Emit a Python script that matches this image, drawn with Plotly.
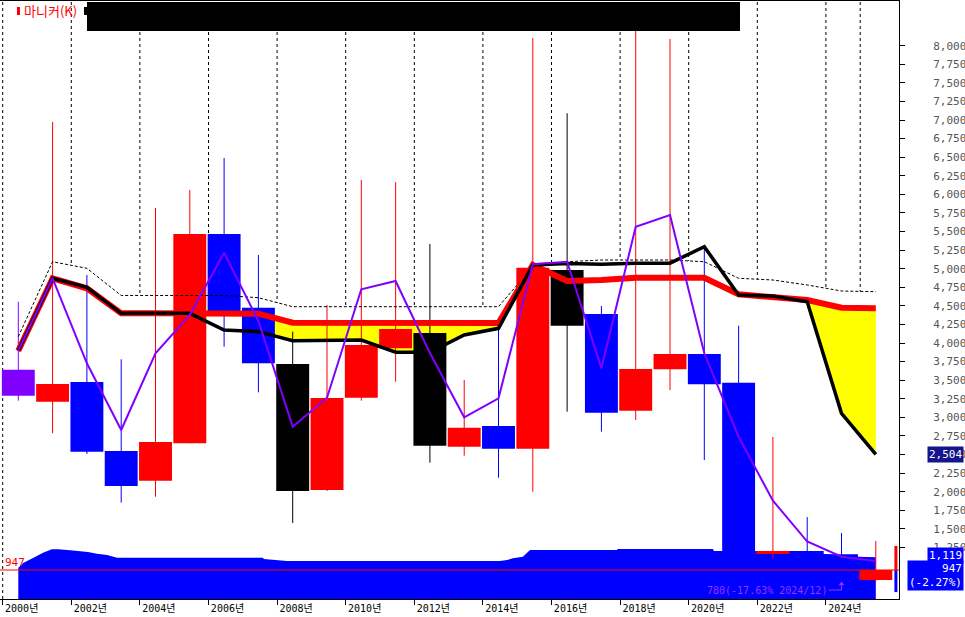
import plotly.graph_objects as go
import numpy as np

# ---------------- data ----------------
years = list(range(2000, 2026))
opens = [3640, 3211, 3476, 2548, 2148, 2651, 5467, 4476, 3718, 2023, 3265, 3929, 4135,
         2606, 2884, 2579, 4983, 4391, 3090, 3647, 3853, 3467, 1162, 1203, 1160, 813]
highs = [4556, 6974, 4915, 3781, 5817, 6059, 6489, 5184, 4153, 4512, 6193, 6166, 5332,
         3503, 4176, 8104, 7091, 4498, 8450, 8090, 5290, 4233, 2736, 1660, 1445, 1337]
lows = [3225, 2786, 2507, 1853, 1933, 2651, 3951, 3337, 1579, 2010, 3225, 3480, 2391,
        2485, 2189, 2000, 3077, 2808, 2965, 3368, 2427, 1100, 1104, 1100, 780, 790]
closes = [3290, 3449, 2539, 2077, 2669, 5467, 4431, 3728, 2010, 3261, 3974, 4189, 2619,
          2861, 2579, 5014, 4233, 3063, 3651, 3853, 3445, 1160, 1203, 1162, 820, 947]

red_line = [3897, 4871, 4736, 4400, 4400, 4400, 4395, 4395, 4274, 4274, 4274, 4274, 4274,
            4274, 4268, 5050, 4835, 4848, 4879, 4879, 4879, 4656, 4624, 4579, 4476, 4468]
black_line = [3897, 4871, 4750, 4400, 4400, 4400, 4176, 4153, 4032, 4041, 4041, 3876, 3876,
              4108, 4198, 5050, 5070, 5060, 5075, 5075, 5296, 4646, 4633, 4556, 3055, 2504]
envelope = [4086, 5094, 5005, 4640, 4640, 4640, 4640, 4610, 4489, 4489, 4489, 4489, 4489,
            4489, 4489, 5027, 5094, 5117, 5117, 5117, 5094, 4871, 4848, 4781, 4700, 4691]
purple_line = [3897, 4871, 3728, 2830, 3862, 4377, 5215, 4297, 2875, 3265, 4723, 4835, 3866,
               3001, 3257, 5060, 5094, 3660, 5565, 5723, 3862, 2740, 1880, 1330, 1126, 1068]

area_x = [2000.00, 2000.14, 2000.43, 2000.72, 2000.98, 2001.16, 2001.51, 2001.80, 2002.03,
          2002.29, 2002.59, 2002.88, 2007.13, 2007.16, 2007.51, 2007.83, 2014.04, 2014.25,
          2014.42, 2014.71, 2014.92, 2017.45, 2017.48, 2020.25, 2020.28, 2022.50, 2023.49,
          2024.49, 2025.00]
area_y = [978, 1041, 1109, 1180, 1226, 1226, 1212, 1203, 1189, 1166, 1149, 1113, 1113,
          1095, 1082, 1068, 1068, 1082, 1104, 1126, 1216, 1216, 1230, 1230, 1203, 1203,
          1162, 1126, 1119]

cloud_spans = [(2007, 2015), (2022, 2025)]

current_price = 947
current_change = "-2.27%"
area_last = 1119
marker_high = 1270
marker_low = 650
low_value = 780
low_year = 2024
low_label = "780(-17.63% 2024/12)"

label_years = list(range(2000, 2025, 2))
grid_years = label_years + [2025]
y_ticks = list(range(1250, 8001, 250))

# ---------------- styles ----------------
candle_colors = ["#8000ff", "red", "blue", "blue", "red", "red", "blue", "blue", "black",
                 "red", "red", "red", "black", "red", "blue", "red", "black", "blue",
                 "red", "red", "blue", "blue", "red", "blue", "blue", "red"]
BOUND = 0.455
HALF = 0.48
X0, X1 = 1999.4665, 2025.676
Y0, Y1 = 557, 8601
PW, PTOP, PBOT = 899, 1, 599
MONO = "DejaVu Sans Mono, Noto Sans CJK KR"
KR = "Noto Sans CJK KR"


def pxx(px):
    return px / PW


def pxy(py):
    return (PBOT - py) / (PBOT - PTOP)


fig = go.Figure()

# white mask below the envelope (hides grid lines)
fig.add_trace(go.Scatter(x=years, y=envelope, mode="lines", line=dict(width=0, color="white"),
                         fill="tozeroy", fillcolor="white", hoverinfo="skip"))
# blue area at the bottom
fig.add_trace(go.Scatter(x=area_x, y=area_y, mode="lines", line=dict(width=0, color="blue"),
                         fill="tozeroy", fillcolor="#0000ff", hoverinfo="skip"))

# yellow cloud
red_arr = np.array(red_line, dtype=float)
blk_arr = np.array(black_line, dtype=float)
for a, b in cloud_spans:
    idx = [years.index(y) for y in range(a, b + 1)]
    xs = [years[i] for i in idx]
    fig.add_trace(go.Scatter(x=xs, y=np.minimum(red_arr, blk_arr)[idx], mode="lines",
                             line=dict(width=0, color="yellow"), hoverinfo="skip"))
    fig.add_trace(go.Scatter(x=xs, y=red_arr[idx], mode="lines", line=dict(width=0, color="yellow"),
                             fill="tonexty", fillcolor="#ffff00", hoverinfo="skip"))

# candles grouped by colour
for col in dict.fromkeys(candle_colors):
    wx, wy, bx, by = [], [], [], []
    for i, yr in enumerate(years):
        if candle_colors[i] != col:
            continue
        wx += [yr, yr, None]
        wy += [lows[i], highs[i], None]
        o, c = opens[i], closes[i]
        bx += [yr - HALF, yr + HALF, yr + HALF, yr - HALF, yr - HALF, None]
        by += [o, o, c, c, o, None]
    fig.add_trace(go.Scatter(x=wx, y=wy, mode="lines", line=dict(width=1, color=col),
                             hoverinfo="skip"))
    fig.add_trace(go.Scatter(x=bx, y=by, mode="lines", fill="toself", fillcolor=col,
                             line=dict(width=0, color=col), hoverinfo="skip"))

# lines
fig.add_trace(go.Scatter(x=years, y=envelope, mode="lines",
                         line=dict(width=1, color="black", dash="3px,2px"), hoverinfo="skip"))
fig.add_trace(go.Scatter(x=years, y=red_line, mode="lines",
                         line=dict(width=6, color="#ff0000"), hoverinfo="skip"))
fig.add_trace(go.Scatter(x=years, y=black_line, mode="lines",
                         line=dict(width=3.5, color="black"), hoverinfo="skip"))
fig.add_trace(go.Scatter(x=years, y=purple_line, mode="lines",
                         line=dict(width=2, color="#8000ff"), hoverinfo="skip"))

# low marker elbow arrow
elbow_y = low_value - 102
fig.add_trace(go.Scatter(x=[low_year - 0.37, low_year, low_year], y=[elbow_y, elbow_y, low_value - 30],
                         mode="lines", line=dict(width=1, color="#9933ff"), hoverinfo="skip"))
fig.add_trace(go.Scatter(x=[low_year], y=[low_value - 20], mode="markers",
                         marker=dict(symbol="triangle-up", size=5, color="#9933ff"),
                         hoverinfo="skip"))

# right-edge price marker
xm = X1 - 0.09
fig.add_trace(go.Scatter(x=[xm, xm], y=[current_price, marker_high], mode="lines",
                         line=dict(width=3, color="red"), hoverinfo="skip"))
fig.add_trace(go.Scatter(x=[xm, xm], y=[marker_low, current_price], mode="lines",
                         line=dict(width=3, color="blue"), hoverinfo="skip"))
fig.add_trace(go.Scatter(x=[X1 + 0.07], y=[current_price], mode="markers", cliponaxis=False,
                         marker=dict(symbol="triangle-left", size=9, color="blue"),
                         hoverinfo="skip"))

shapes = []
for gy in grid_years:
    shapes.append(dict(type="line", xref="x", yref="paper", x0=gy - BOUND, x1=gy - BOUND,
                       y0=0, y1=1, layer="below",
                       line=dict(color="black", width=1, dash="3px,3px")))
shapes.append(dict(type="line", xref="paper", yref="y", x0=0, x1=1, y0=current_price,
                   y1=current_price, layer="above", line=dict(color="red", width=1)))
shapes.append(dict(type="rect", xref="paper", yref="paper", x0=pxx(87), x1=pxx(740),
                   y0=pxy(31), y1=pxy(2), fillcolor="black", line=dict(width=0), layer="above"))
shapes.append(dict(type="rect", xref="paper", yref="paper", x0=pxx(17), x1=pxx(20),
                   y0=pxy(15), y1=pxy(7), fillcolor="red", line=dict(width=0), layer="above"))
shapes.append(dict(type="rect", xref="paper", yref="paper", x0=pxx(84), x1=pxx(87),
                   y0=pxy(15), y1=pxy(7), fillcolor="black", line=dict(width=0), layer="above"))

annotations = [
    dict(text="마니커(K)", xref="paper", yref="paper", x=pxx(22), y=pxy(10.5), xanchor="left",
         yanchor="middle", showarrow=False, font=dict(family=KR, size=13, color="red")),
    dict(text=f"{current_price}", xref="paper", yref="y", x=pxx(4), y=current_price,
         xanchor="left", yanchor="bottom", showarrow=False, borderpad=0,
         font=dict(family=MONO, size=11, color="red")),
    dict(text=low_label, xref="x", yref="y", x=low_year - 0.37, y=elbow_y, xanchor="right",
         yanchor="middle", showarrow=False, font=dict(family=MONO, size=10, color="#9933ff")),
    dict(text=f"{black_line[-1]:,}", xref="paper", yref="y", x=pxx(964), y=black_line[-1],
         xanchor="right", yanchor="middle", showarrow=False, bgcolor="#14148c", borderpad=1,
         font=dict(family=MONO, size=11, color="white")),
    dict(text=f"{area_last:,}", xref="paper", yref="y", x=pxx(964), y=area_last, yshift=2,
         xanchor="right", yanchor="middle", showarrow=False, bgcolor="#0000ff", borderpad=1,
         font=dict(family=MONO, size=11, color="white")),
    dict(text=f"{current_price}<br>({current_change})", xref="paper", yref="y", x=pxx(964),
         y=current_price, yshift=-5, xanchor="right", yanchor="middle", align="right",
         showarrow=False, bgcolor="#0000ff", borderpad=1,
         font=dict(family=MONO, size=11, color="white")),
]

fig.update_layout(
    width=965, height=617,
    margin=dict(l=0, r=965 - PW, t=PTOP, b=617 - PBOT, autoexpand=False),
    plot_bgcolor="white", paper_bgcolor="white", showlegend=False,
    font=dict(family=MONO, size=11, color="black"),
    shapes=shapes, annotations=annotations,
)
fig.update_xaxes(range=[X0, X1], tickmode="array", automargin=False,
                 tickvals=[y - BOUND for y in label_years],
                 ticktext=[f"{y}년" for y in label_years],
                 ticks="outside", ticklen=5, tickcolor="black", ticklabelshift=19,
                 ticklabelstandoff=-5,
                 tickfont=dict(family=MONO, size=10, color="black"),
                 showline=True, linecolor="black", linewidth=1, mirror=True,
                 showgrid=False, zeroline=False)
fig.update_yaxes(range=[Y0, Y1], side="right", tickmode="array", tickvals=y_ticks,
                 automargin=False,
                 ticktext=[f"{v:,}" for v in y_ticks], ticks="outside", ticklen=5,
                 tickcolor="black", ticklabelstandoff=26,
                 tickfont=dict(family=MONO, size=11, color="#555555"),
                 showline=True, linecolor="black", linewidth=1,
                 showgrid=False, zeroline=False)

fig.write_html("out.html", config={"displayModeBar": False},
               post_script="document.body.style.margin='0px';document.body.style.overflow='hidden';")
